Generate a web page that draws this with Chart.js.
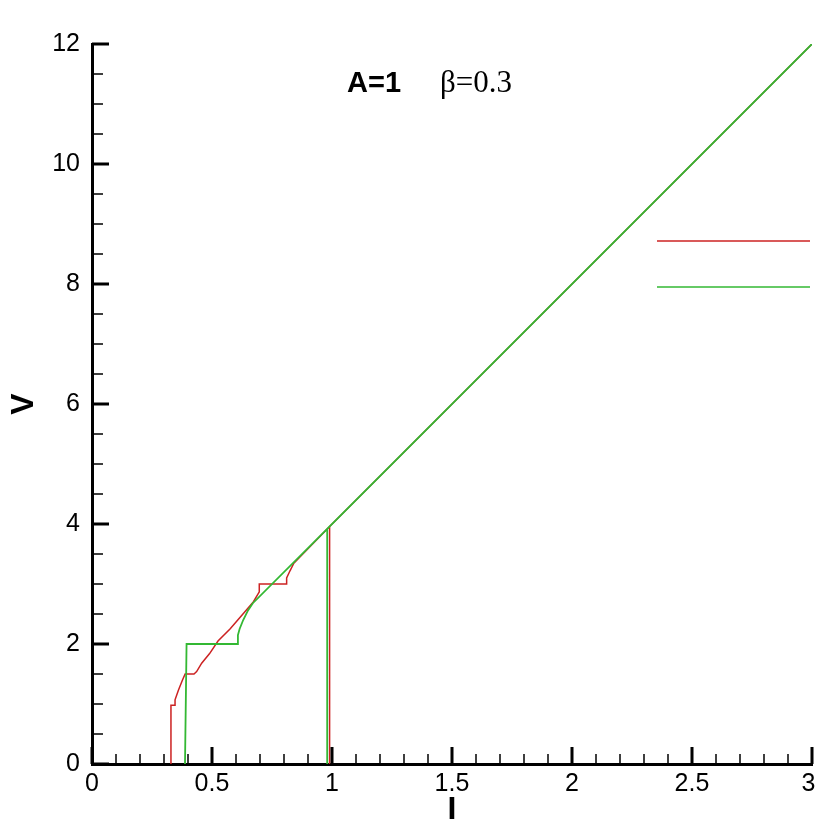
<!DOCTYPE html>
<html>
<head>
<meta charset="utf-8">
<title>V-I</title>
<script src="https://cdn.jsdelivr.net/npm/chart.js@4.4.1/dist/chart.umd.min.js"></script>
<style>
    html, body { margin: 0; padding: 0; background: #fff; overflow: hidden; }
    canvas { display: block; }
</style>
</head>
<body>
<canvas id="viChart" width="815" height="826"></canvas>
<script>
// red branch: stepped rise onto V = 4I, then the drop back to zero near I = 1
const redI = [0.329, 0.329, 0.346, 0.346, 0.36, 0.377, 0.388, 0.425, 0.436, 0.457, 0.49, 0.525, 0.575, 0.672, 0.697, 0.697, 0.811, 0.811, 0.825, 0.84, 0.99, 3.0, null, 0.99, 0.99];
const redV = [0, 0.98, 0.98, 1.07, 1.23, 1.4, 1.5, 1.5, 1.54, 1.68, 1.84, 2.05, 2.25, 2.7, 2.87, 3.0, 3.0, 3.1, 3.22, 3.34, 3.96, 12.0, null, 3.96, 0];

// green branch
const greenI = [0.3875, 0.394, 0.608, 0.608, 0.615, 0.63, 0.65, 0.67, 0.98, 3.0, null, 0.98, 0.98];
const greenV = [0, 2.0, 2.0, 2.15, 2.25, 2.4, 2.56, 2.68, 3.92, 12.0, null, 3.92, 0];

const xTicks = [0, 0.5, 1, 1.5, 2, 2.5, 3];
const yTicks = [0, 2, 4, 6, 8, 10, 12];
const xMinorStep = 0.1;
const yMinorStep = 0.5;

const titleMain = 'A=1';
const titleParam = 'β=0.3';

const RED = '#cc2222';
const GREEN = '#33b833';
const SANS = "'Liberation Sans', Arial, sans-serif";
const SERIF = "'Liberation Serif', 'Times New Roman', serif";

function toPoints(xs, ys) {
    return xs.map((x, i) => ({ x: x, y: ys[i] }));
}

function stepsBetween(min, max, step) {
    const n = Math.round((max - min) / step);
    const out = [];
    for (let i = 0; i <= n; i++) out.push(min + i * step);
    return out;
}

// tick marks point inward from the axes
const innerTicks = {
    id: 'innerTicks',
    afterDatasetsDraw(chart) {
        const ctx = chart.ctx;
        const xs = chart.scales.x;
        const ys = chart.scales.y;
        const area = chart.chartArea;

        const drawX = (values, len, width) => {
            ctx.lineWidth = width;
            ctx.beginPath();
            values.forEach(v => {
                const px = Math.round(xs.getPixelForValue(v));
                ctx.moveTo(px, area.bottom);
                ctx.lineTo(px, area.bottom - len);
            });
            ctx.stroke();
        };
        const drawY = (values, len, width) => {
            ctx.lineWidth = width;
            ctx.beginPath();
            values.forEach(v => {
                const py = Math.round(ys.getPixelForValue(v));
                ctx.moveTo(area.left, py);
                ctx.lineTo(area.left + len, py);
            });
            ctx.stroke();
        };

        ctx.save();
        ctx.strokeStyle = '#000';
        ctx.lineCap = 'butt';
        drawX(stepsBetween(xs.min, xs.max, xMinorStep), 10, 1.5);
        drawY(stepsBetween(ys.min, ys.max, yMinorStep), 11, 1.5);
        drawX(xTicks, 17, 3);
        drawY(yTicks, 17, 3);
        ctx.restore();
    }
};

// heading text and the two key lines on the right
const headingAndKey = {
    id: 'headingAndKey',
    afterDraw(chart) {
        const ctx = chart.ctx;
        ctx.save();
        ctx.fillStyle = '#000';
        ctx.textBaseline = 'alphabetic';
        ctx.textAlign = 'left';
        ctx.font = 'bold 29px ' + SANS;
        ctx.fillText(titleMain, 347, 92);
        ctx.font = '31px ' + SERIF;
        ctx.fillText(titleParam, 440, 92);

        ctx.lineWidth = 1.6;
        ctx.strokeStyle = RED;
        ctx.beginPath();
        ctx.moveTo(657, 241);
        ctx.lineTo(810, 241);
        ctx.stroke();
        ctx.strokeStyle = GREEN;
        ctx.beginPath();
        ctx.moveTo(657, 287);
        ctx.lineTo(810, 287);
        ctx.stroke();
        ctx.restore();
    }
};

new Chart(document.getElementById('viChart').getContext('2d'), {
    type: 'scatter',
    data: {
        datasets: [{
            label: 'red',
            data: toPoints(redI, redV),
            showLine: true,
            borderColor: RED,
            borderWidth: 1.5,
            pointRadius: 0,
            spanGaps: false,
            order: 1
        }, {
            label: 'green',
            data: toPoints(greenI, greenV),
            showLine: true,
            borderColor: GREEN,
            borderWidth: 1.8,
            pointRadius: 0,
            spanGaps: false,
            order: 0
        }]
    },
    options: {
        responsive: false,
        animation: false,
        devicePixelRatio: 1,
        layout: { padding: { top: 44, right: 3, bottom: 0, left: 0 } },
        plugins: {
            legend: { display: false },
            tooltip: { enabled: false }
        },
        scales: {
            x: {
                type: 'linear',
                min: 0,
                max: 3,
                afterBuildTicks: s => { s.ticks = xTicks.map(v => ({ value: v })); },
                afterFit: s => { s.height = 62; s.paddingLeft = 0; s.paddingRight = 0; },
                ticks: {
                    padding: 5,
                    color: '#000',
                    maxRotation: 0,
                    autoSkip: false,
                    font: { family: SANS, size: 25 },
                    // last label nudged left so it stays on the canvas
                    callback: v => v === 3 ? '3 ' : String(v)
                },
                grid: { display: false, drawTicks: false },
                border: { display: true, color: '#000', width: 3 },
                title: {
                    display: true,
                    text: 'I',
                    color: '#000',
                    font: { family: SANS, size: 32, weight: 'bold', lineHeight: 1 },
                    padding: { top: 0, bottom: 0 }
                }
            },
            y: {
                type: 'linear',
                min: 0,
                max: 12,
                afterBuildTicks: s => { s.ticks = yTicks.map(v => ({ value: v })); },
                afterFit: s => { s.width = 92; },
                ticks: {
                    padding: 12,
                    color: '#000',
                    autoSkip: false,
                    font: { family: SANS, size: 25 },
                    callback: v => String(v)
                },
                grid: { display: false, drawTicks: false },
                border: { display: true, color: '#000', width: 3 },
                title: {
                    display: true,
                    text: 'V',
                    color: '#000',
                    font: { family: SANS, size: 32, weight: 'bold', lineHeight: 1.2 },
                    padding: { top: 5, bottom: 0 }
                }
            }
        }
    },
    plugins: [innerTicks, headingAndKey]
});
</script>
</body>
</html>
